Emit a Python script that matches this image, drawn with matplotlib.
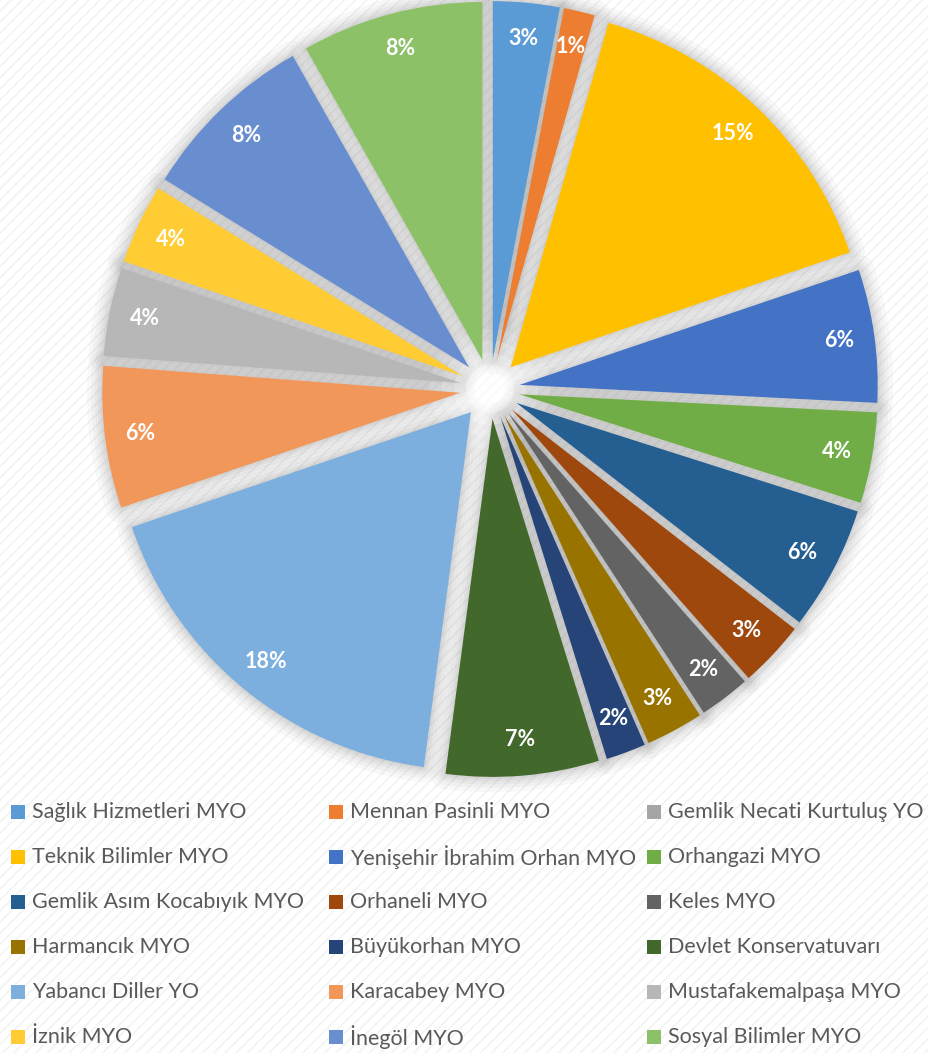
import matplotlib
matplotlib.use("Agg")
import matplotlib.pyplot as plt
import matplotlib.patches as mpatches

categories = [
    "Sağlık Hizmetleri MYO", "Mennan Pasinli MYO", "Gemlik Necati Kurtuluş YO",
    "Teknik Bilimler MYO", "Yenişehir İbrahim Orhan MYO", "Orhangazi MYO",
    "Gemlik Asım Kocabıyık MYO", "Orhaneli MYO", "Keles MYO",
    "Harmancık MYO", "Büyükorhan MYO", "Devlet Konservatuvarı",
    "Yabancı Diller YO", "Karacabey MYO", "Mustafakemalpaşa MYO",
    "İznik MYO", "İnegöl MYO", "Sosyal Bilimler MYO",
]
shares = [3.0, 1.4, 0.0, 15.4, 6.0, 4.1, 5.6, 3.0, 2.3,
          2.6, 1.8, 6.9, 17.7, 6.4, 4.0, 3.6, 8.0, 8.2]
colors = [
    "#5B9BD5", "#ED7D31", "#A5A5A5", "#FFC000", "#4472C4", "#70AD47",
    "#255E91", "#9E480E", "#636363", "#997300", "#264478", "#43682B",
    "#7CAFDD", "#F1975A", "#B7B7B7", "#FFCD33", "#698ED0", "#8CC168",
]

W, H = 929, 1053
fig = plt.figure(figsize=(W / 100, H / 100), dpi=100)
fig.patch.set_facecolor("white")
ax = fig.add_axes([0, 0, 1, 1])

# faint diagonal texture
plt.rcParams["hatch.linewidth"] = 1.2
bg = mpatches.Rectangle((0, 0), W, H, facecolor="white", edgecolor="#f3f3f3",
                        hatch="///", linewidth=0, zorder=0)
ax.add_patch(bg)

cx, cy, R = 490, H - 389, 358
explode = [30] * len(shares)   # pie explode is in data units here

def fmt(p):
    return "" if p < 0.5 else "%d%%" % round(p)

wedges, texts, autotexts = ax.pie(
    shares, colors=colors, startangle=90, counterclock=False,
    explode=explode, radius=R, center=(cx, cy), autopct=fmt,
    pctdistance=0.9, wedgeprops=dict(linewidth=0), frame=True,
)
ax.set_xlim(0, W)
ax.set_ylim(0, H)
ax.set_aspect("equal")
ax.axis("off")

for w in wedges:
    w.set_zorder(3)
    if w.theta2 - w.theta1 < 0.01:
        continue
    for lw, a in [(22, 0.05), (16, 0.06), (11, 0.07), (7, 0.08), (3, 0.09)]:
        s = mpatches.Wedge(w.center, w.r, w.theta1, w.theta2,
                           facecolor="none", edgecolor="#7f7f7f",
                           linewidth=lw, alpha=a, zorder=2, joinstyle="round")
        ax.add_patch(s)

# soft light glow where the slices meet
for rad, a in [(60, 0.15), (48, 0.2), (36, 0.25), (24, 0.3)]:
    ax.add_patch(mpatches.Circle((cx, cy), rad, facecolor="white",
                                 edgecolor="none", alpha=a, zorder=2.5))

for t in autotexts:
    t.set_color("white")
    t.set_fontweight("bold")
    t.set_fontsize(15.5)
    t.set_family("Lato")
    t.set_zorder(5)

# legend (row-wise, 3 columns)
ncol = 3
x0, colw = 11, 318
y_top, rowh = 812, 45
sq = 14
for i, (name, col) in enumerate(zip(categories, colors)):
    r, c = divmod(i, ncol)
    xm = x0 + c * colw
    yc = H - (y_top + r * rowh)
    ax.add_patch(mpatches.Rectangle((xm, yc - sq / 2), sq, sq, facecolor=col,
                                    edgecolor="none", zorder=4))
    ax.text(xm + 21, yc, name, fontsize=15.5, family="Lato", color="#595959",
            va="center", ha="left", zorder=4)

fig.savefig("out.png", dpi=100)
